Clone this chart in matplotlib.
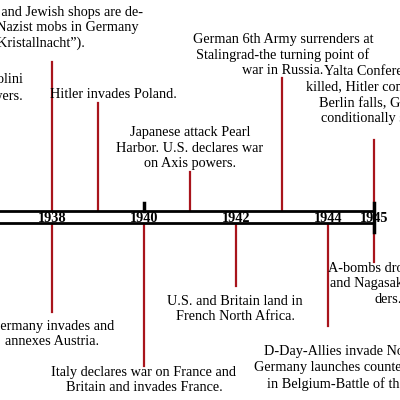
import matplotlib
matplotlib.use("Agg")
import matplotlib.pyplot as plt
from matplotlib.patches import Rectangle

tick_years = [1938, 1940, 1942, 1944, 1945]
tick_labels = ["1938", "1940", "1942", "1944", "1945"]

events_above = [
    (1938.0, "Synagogues and Jewish shops are de-\nstroyed by Nazist mobs in Germany\n(\u201cKristallnacht\u201d)."),
    (1939.0, "Hitler invades Poland."),
    (1941.0, "Japanese attack Pearl\nHarbor. U.S. declares war\non Axis powers."),
    (1943.0, "German 6th Army surrenders at\nStalingrad-the turning point of\nwar in Russia."),
    (1945.0, "Yalta Conference. Duce\nkilled, Hitler commits suicide,\nBerlin falls, Germany un-\nconditionally surrenders."),
]
events_below = [
    (1938.0, "Germany invades and\nannexes Austria."),
    (1940.0, "Italy declares war on France and\nBritain and invades France."),
    (1942.0, "U.S. and Britain land in\nFrench North Africa."),
    (1944.0, "D-Day-Allies invade Normandy.\nGermany launches counteroffensive\nin Belgium-Battle of the Bulge."),
    (1945.0, "A-bombs dropped on\nand Nagasaki, Japan\nders."),
]

# layout (pixel coords): line end y, text x centre, text y centre
above_layout = [(62, 36, 28), (103, 113, 95), (172, 190, 148), (78, 283, 55), (140, 392, 95)]
below_layout = [(312, 52, 334), (366, 144, 380), (286, 235, 309), (326, 357, 368), (262, 388, 284)]

def yr(px):
    return 1938 + (px - 52) / 46.0

fig = plt.figure(figsize=(4, 4), dpi=100)
ax = fig.add_axes([0, 0, 1, 1])
ax.set_xlim(yr(0), yr(400))
ax.set_ylim(400, 0)
ax.axis("off")
red = "#a8141c"
font = dict(family="Liberation Serif", fontsize=10.3)

for (x, txt), (ly, tx, ty) in zip(events_above, above_layout):
    ax.plot([x, x], [211, ly], color=red, lw=1.6, zorder=1)
    ax.text(yr(tx), ty, txt, ha="center", va="center", linespacing=1.25, **font)
for (x, txt), (ly, tx, ty) in zip(events_below, below_layout):
    ax.plot([x, x], [223, ly], color=red, lw=1.6, zorder=1)
    ax.text(yr(tx), ty, txt, ha="center", va="center", linespacing=1.25, **font)

ax.text(yr(23), 88, "Hitler and Mussolini\nform Axis powers.", ha="right", va="center",
        multialignment="right", linespacing=1.25, **font)

ax.add_patch(Rectangle((yr(-10), 211), yr(374) - yr(-10), 12, facecolor="white",
                       edgecolor="black", lw=2, zorder=2))
ax.plot([1940, 1940], [203, 211], color="black", lw=2.5, zorder=3)
ax.plot([1945, 1945], [203, 232], color="black", lw=2.5, zorder=3)
for y, lab in zip(tick_years, tick_labels):
    ax.text(y, 218, lab, ha="center", va="center", fontweight="bold",
            family="Liberation Serif", fontsize=10.3, zorder=4)

fig.savefig("out.png", dpi=100, facecolor="white")
